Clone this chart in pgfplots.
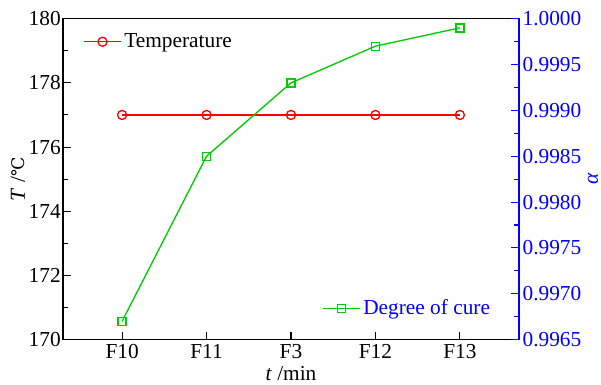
\documentclass[border=0pt]{standalone}
\usepackage{fontspec}
\setmainfont{Liberation Serif}
\newfontfamily\dejaserif{DejaVu Serif}
\usepackage{pgfplots}
\pgfplotsset{compat=1.18}
\definecolor{ggreen}{RGB}{0,205,0}
\newcommand{\fs}{\fontsize{16pt}{19pt}\selectfont}
\pgfplotsset{
  longlegend/.style={legend image code/.code={
    \draw[##1] (0pt,0pt) -- (27.75pt,0pt);
    \draw[##1, only marks] plot coordinates {(13.9pt,0pt)};
  }}
}
\begin{document}
\fs
\begin{tikzpicture}
\useasboundingbox (-47.25pt,-34pt) rectangle (403.5pt,254.75pt);
\begin{axis}[
  scale only axis, width=342pt, height=240.75pt,
  xmin=-0.7, xmax=4.7, ymin=170, ymax=180,
  xtick={0,1,2,3,4}, xticklabels={F10,F11,F3,F12,F13},
  ytick={170,172,...,180}, minor ytick={171,173,...,179},
  xtick pos=bottom, ytick pos=left, tick align=inside,
  major tick length=6pt, minor tick length=4pt,
  every tick/.style={black, line width=0.8pt},
  axis line style={line width=1pt},
  /pgf/number format/assume math mode=true,
  ticklabel style={font=\fs},
  yticklabel style={inner sep=1.5pt},
  xticklabel style={inner sep=3pt},
  xlabel={\textit{t} /min}, ylabel={\textit{T} /{\dejaserif\fontsize{13pt}{16pt}\selectfont ℃}},
  label style={font=\fs},
  xlabel style={at={(axis description cs:0.5,-0.104)}, anchor=center},
  ylabel style={at={(axis description cs:-0.099,0.5)}, anchor=center},
  legend style={draw=none, fill=none, at={(0.044,0.928)}, anchor=west, inner sep=0pt, font=\fs},
  legend cell align=left, longlegend,
]
\addplot[red, line width=1pt, mark=o, mark size=3.4pt, mark options={fill=white}] coordinates {(0,177) (1,177) (2,177) (3,177) (4,177)};
\addlegendentry{Temperature}
\end{axis}
\begin{axis}[
  scale only axis, width=342pt, height=240.75pt,
  xmin=-0.7, xmax=4.7, ymin=0.9965, ymax=1.0000,
  axis x line=none, axis y line*=right,
  ytick={0.9965,0.9970,...,1.00001}, minor ytick={0.99675,0.99725,0.99775,0.99825,0.99875,0.99925,0.99975},
  tick align=inside,
  major tick length=6pt, minor tick length=4pt,
  every tick/.style={blue, line width=0.8pt},
  axis line style={blue, line width=1.2pt},
  y tick label style={blue, inner sep=2.5pt, /pgf/number format/.cd, fixed, fixed zerofill, precision=4},
  /pgf/number format/assume math mode=true,
  ticklabel style={font=\fs},
  scaled y ticks=false,
  ylabel={\textit{α}}, ylabel style={blue, font=\fs, at={(axis description cs:1.162,0.5)}, anchor=center},
  legend style={draw=none, fill=none, at={(0.943,0.0966)}, anchor=east, inner sep=0pt, text=blue, font=\fs},
  longlegend,
]
\addplot[color=ggreen, line width=1pt, mark=square, mark size=3pt, mark options={fill=white}] coordinates {(0,0.99670) (1,0.99850) (2,0.99930) (3,0.99970) (4,0.99990)};
\addlegendentry{Degree of cure}
\end{axis}
\end{tikzpicture}
\end{document}
